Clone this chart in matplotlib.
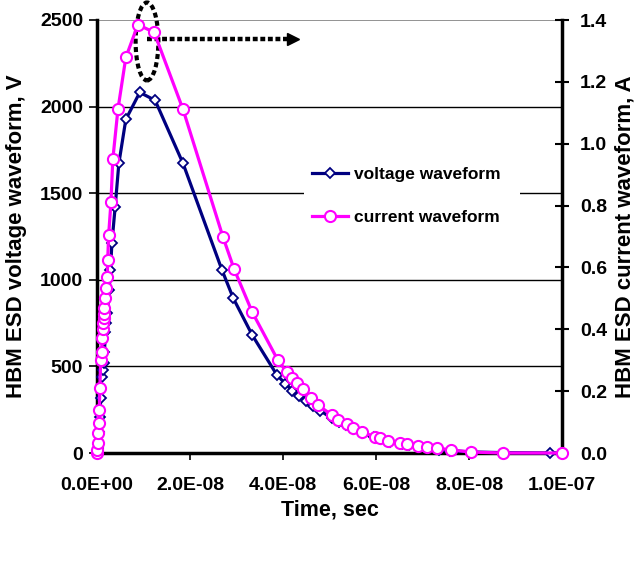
import matplotlib
matplotlib.use("Agg")
import matplotlib.pyplot as plt
from matplotlib.patches import Ellipse, Rectangle
from matplotlib.lines import Line2D
import numpy as np

plt.rcParams['font.family'] = ['Liberation Sans', 'DejaVu Sans']

# Voltage waveform (time in ns, voltage in V)
v_time_ns = [0, 0.2, 0.4, 0.6, 0.8, 1.0, 1.2, 1.4, 1.6, 1.8, 2.0, 2.2, 2.6, 2.9, 3.2,
             3.9, 4.7, 6.2, 9.2, 12.5, 18.5, 26.9, 29.3, 33.4, 38.7, 40.5, 42.0, 43.5,
             45.0, 46.5, 48.0, 50.5, 52.0, 53.5, 55.0, 57.0, 59.5, 61.0, 63.0, 65.5,
             67.0, 69.0, 71.0, 73.5, 76.0, 80.5, 87.5, 97.4, 100.0]
voltage = [0, 30, 121, 208, 317, 438, 479, 519, 582, 700, 750, 807, 940, 1055, 1211,
           1419, 1672, 1926, 2082, 2036, 1672, 1055, 894, 680, 450, 400, 360, 330,
           300, 270, 245, 200, 180, 160, 140, 115, 90, 80, 65, 52,
           45, 35, 28, 20, 14, 6, 2, 0, 0]

# Current waveform (time in ns, current in A)
i_time_ns = [0, 0.1, 0.2, 0.3, 0.4, 0.5, 0.6, 0.8, 1.0, 1.1, 1.2, 1.3, 1.4, 1.5, 1.6,
             1.8, 2.0, 2.2, 2.3, 2.5, 3.0, 3.4, 4.5, 6.2, 8.8, 12.3, 18.5, 27.1, 29.5,
             33.4, 38.9, 40.8, 42.0, 43.0, 44.3, 46.0, 47.5, 50.5, 51.8, 53.7, 55.0,
             57.0, 59.8, 60.9, 62.6, 65.2, 66.7, 69.0, 71.0, 73.1, 76.1, 80.4, 87.3, 100.0]
current = [0, 0.01, 0.032, 0.065, 0.097, 0.139, 0.21, 0.30, 0.326, 0.371, 0.40, 0.42,
           0.436, 0.45, 0.468, 0.50, 0.533, 0.568, 0.623, 0.704, 0.811, 0.949, 1.111,
           1.279, 1.385, 1.36, 1.111, 0.698, 0.594, 0.455, 0.300, 0.262, 0.242, 0.226,
           0.207, 0.178, 0.155, 0.123, 0.107, 0.094, 0.081, 0.068, 0.052, 0.048, 0.039,
           0.032, 0.029, 0.023, 0.019, 0.016, 0.010, 0.003, 0.0, 0.0]

x_ticks = [0, 2e-8, 4e-8, 6e-8, 8e-8, 1e-7]
x_tick_labels = ["0.0E+00", "2.0E-08", "4.0E-08", "6.0E-08", "8.0E-08", "1.0E-07"]
v_ticks = [0, 500, 1000, 1500, 2000, 2500]
i_ticks = [0.0, 0.2, 0.4, 0.6, 0.8, 1.0, 1.2, 1.4]

NAVY = "#000080"
MAGENTA = "#FF00FF"

fig = plt.figure(figsize=(6.4, 5.62), dpi=100)
ax = fig.add_axes([97/640, 1-453/562, (562-97)/640, (453-20)/562])
ax2 = ax.twinx()

vt = np.array(v_time_ns) * 1e-9
it = np.array(i_time_ns) * 1e-9

ax.plot(vt, voltage, color=NAVY, lw=2.3, marker='D', ms=5.5, mfc='white',
        mec=NAVY, mew=1.3, clip_on=False, zorder=3)
ax2.plot(it, current, color=MAGENTA, lw=2.3, marker='o', ms=8, mfc='white',
         mec=MAGENTA, mew=1.5, clip_on=False, zorder=3)

ax.set_xlim(0, 1e-7)
ax.set_ylim(0, 2500)
ax2.set_ylim(0, 1.4)

ax.set_xticks(x_ticks)
ax.set_xticklabels(x_tick_labels)
ax.set_yticks(v_ticks)
ax.set_yticklabels([str(v) for v in v_ticks])
ax2.set_yticks(i_ticks)
ax2.set_yticklabels([f"{v:.1f}" for v in i_ticks])

for y in v_ticks[1:-1]:
    ax.axhline(y, color='black', lw=1.0, zorder=1)
ax.axhline(2500, color='#808080', lw=1.2, zorder=1)

# white area behind legend (hides the gridline there)
ax.add_patch(Rectangle(((304-97)/465, 1-(236-20)/433), (520-304)/465, (236-158)/433,
                       transform=ax.transAxes, facecolor='white', edgecolor='none',
                       zorder=2))

for a in (ax, ax2):
    a.spines['top'].set_visible(False)
    a.spines['left'].set_linewidth(2.5)
    a.spines['bottom'].set_linewidth(2.5)
    a.spines['right'].set_linewidth(2.5)
ax2.spines['left'].set_visible(False)
ax2.spines['bottom'].set_visible(False)
ax.spines['right'].set_visible(False)

ax.tick_params(axis='y', direction='out', length=6, width=1.2, pad=4,
               labelsize=14)
ax.tick_params(axis='x', direction='out', length=5, width=1.2, pad=12,
               labelsize=14)
ax2.tick_params(axis='y', direction='inout', length=10, width=1.5, pad=8,
                labelsize=14)
for lab in ax.get_xticklabels() + ax.get_yticklabels() + ax2.get_yticklabels():
    lab.set_fontweight('bold')

ax.set_xlabel("Time, sec", fontsize=15.5, fontweight='bold', labelpad=4)
ax.set_ylabel("HBM ESD voltage waveform, V", fontsize=16, fontweight='bold',
              labelpad=9)
ax2.set_ylabel("HBM ESD current waveform, A", fontsize=16, fontweight='bold',
               labelpad=5, rotation=90)

# Peak annotation: dotted ellipse and dotted arrow
ell = Ellipse((10.75e-9, 2376), width=4.9e-9, height=450, fill=False,
              edgecolor='black', lw=3, ls=(0, (1.2, 0.8)), clip_on=False, zorder=5)
ax.add_patch(ell)
ax.plot([10.75e-9, 41.0e-9], [2388, 2388], color='black', lw=3.2,
        ls=(0, (1.1, 0.6)), dash_capstyle='butt', clip_on=False, zorder=5)
ax.plot([42.2e-9], [2388], marker='>', ms=8.5, color='black', mec='black',
        clip_on=False, zorder=5)

handles = [
    Line2D([], [], color=NAVY, lw=2.3, marker='D', ms=5.5, mfc='white', mec=NAVY, mew=1.3),
    Line2D([], [], color=MAGENTA, lw=2.3, marker='o', ms=8, mfc='white', mec=MAGENTA, mew=1.5),
]
leg = ax2.legend(handles, ["voltage waveform", "current waveform"],
                 loc='upper left', bbox_to_anchor=((304-97)/465, 1-(159-20)/433),
                 frameon=True, facecolor='white', edgecolor='white', framealpha=1,
                 handlelength=2.1, handletextpad=0.3,
                 labelspacing=1.6, borderpad=0.46, borderaxespad=0,
                 prop=dict(weight='bold', size=12.5))
leg.get_frame().set_linewidth(0)

fig.savefig("out.png", dpi=100)
